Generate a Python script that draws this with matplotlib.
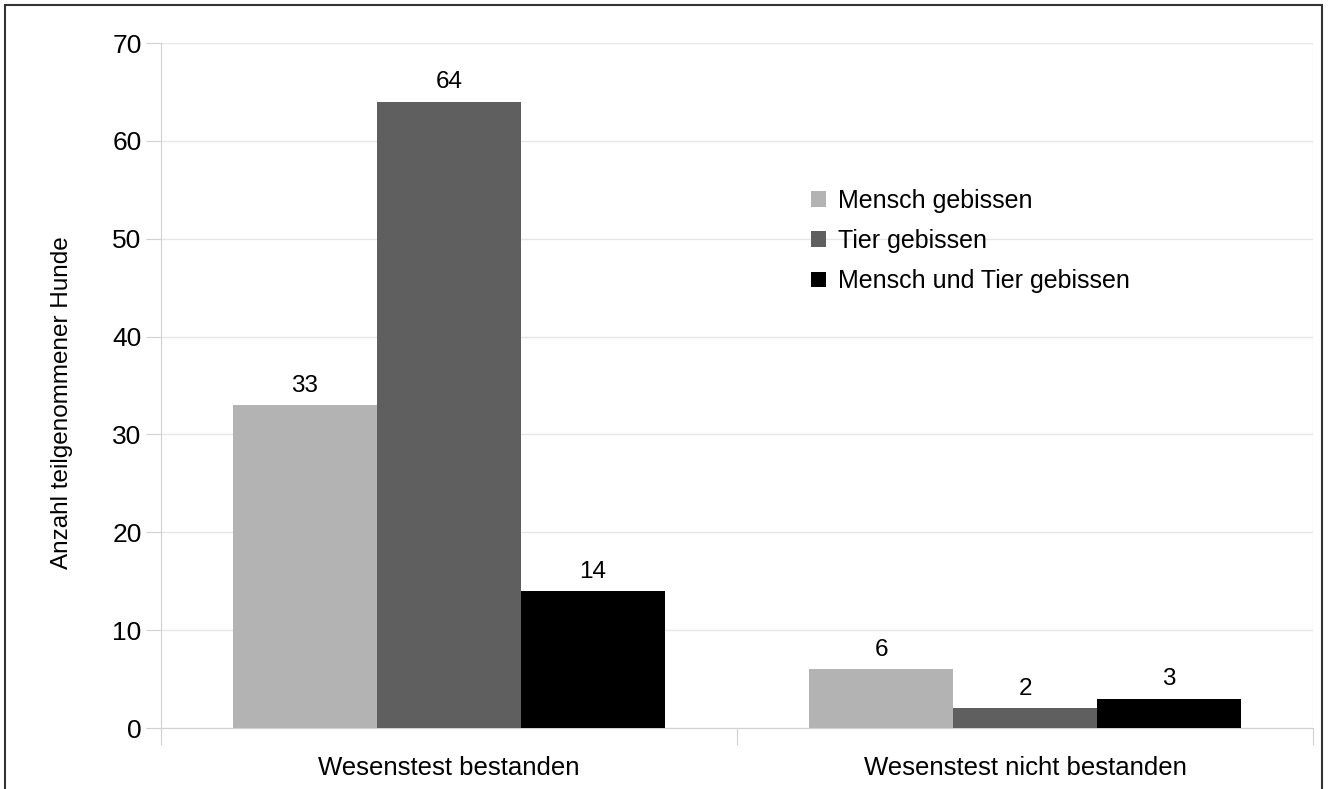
import matplotlib.pyplot as plt
import numpy as np

plt.rcParams['font.family'] = ['Liberation Sans', 'DejaVu Sans']

categories = ['Wesenstest bestanden', 'Wesenstest nicht bestanden']
series = ['Mensch gebissen', 'Tier gebissen', 'Mensch und Tier gebissen']
mensch = [33, 6]
tier = [64, 2]
beide = [14, 3]
colors = ['#b3b3b3', '#5f5f5f', '#000000']

fig = plt.figure(figsize=(13.35, 7.89), dpi=100)
# outer frame like the original export
fig.patches.append(plt.Rectangle((5 / 1335, -0.05), 1317 / 1335, 1.0 - 5 / 789 + 0.05,
                                 transform=fig.transFigure, fill=False,
                                 edgecolor='#333333', linewidth=1.5))
ax = fig.add_axes([161 / 1335, 1 - 728 / 789, (1313 - 161) / 1335, (728 - 43) / 789])

x = np.arange(len(categories))
w = 0.25
for i, (vals, name) in enumerate(zip([mensch, tier, beide], series)):
    bars = ax.bar(x + (i - 1) * w, vals, w, color=colors[i], label=name, zorder=3)
    ax.bar_label(bars, padding=6, fontsize=17.5)

ax.set_xlim(-0.5, 1.5)
ax.set_ylim(0, 70)
ax.set_yticks(range(0, 71, 10))
ax.tick_params(axis='y', labelsize=19, length=11, color='#d0d0d0', pad=3)
ax.set_xticks([-0.5, 0.5, 1.5])
ax.set_xticklabels([])
ax.set_xticks(x, minor=True)
ax.set_xticklabels(categories, minor=True, fontsize=18.5)
ax.tick_params(axis='x', which='major', length=12, color='#d0d0d0')
ax.tick_params(axis='x', which='minor', length=0, pad=20)
ax.grid(axis='y', color='#e6e6e6', linewidth=1, zorder=0)
for s in ['top', 'right']:
    ax.spines[s].set_visible(False)
for s in ['left', 'bottom']:
    ax.spines[s].set_color('#d0d0d0')
# right end tick line
ax.axvline(1.5, color='#e6e6e6', linewidth=1, zorder=0)

ax.set_ylabel('Anzahl teilgenommener Hunde', fontsize=17.5)
ax.yaxis.set_label_coords(-0.0764, 0.4745)
ax.legend(loc='upper left', bbox_to_anchor=(0.545, 0.82), frameon=False,
          fontsize=18, handlelength=0.6, handleheight=0.6, handletextpad=0.45,
          labelspacing=0.65)

fig.savefig('out.png', dpi=100)
